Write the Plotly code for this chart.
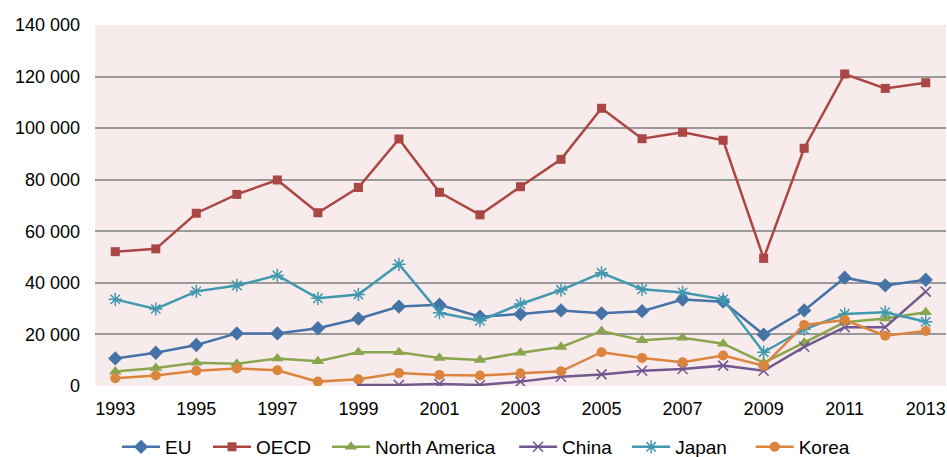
import plotly.graph_objects as go

years = list(range(1993, 2014))

eu = [10.7, 12.9, 15.9, 20.4, 20.4, 22.4, 26.1, 30.8, 31.5, 26.9, 27.9,
      29.3, 28.2, 29.0, 33.5, 32.7, 19.9, 29.3, 42.0, 39.0, 41.2]
oecd = [52.1, 53.2, 67.0, 74.3, 79.9, 67.2, 77.0, 95.8, 75.1, 66.4, 77.3,
        87.9, 107.7, 95.9, 98.4, 95.3, 49.5, 92.2, 121.0, 115.4, 117.6]
north_america = [5.6, 7.0, 9.0, 8.6, 10.7, 9.6, 13.1, 13.1, 10.9, 10.1, 12.9,
                 15.1, 21.3, 17.7, 18.7, 16.4, 9.0, 16.8, 24.7, 26.2, 28.6]
china = [None, None, None, None, None, None, 0.4, 0.4, 0.8, 0.4, 1.7,
         3.6, 4.5, 5.9, 6.6, 7.9, 5.9, 15.2, 22.8, 22.8, 36.6]
japan = [33.6, 29.9, 36.7, 39.0, 42.9, 34.0, 35.5, 47.2, 28.4, 25.3, 31.8,
         37.2, 43.9, 37.5, 36.3, 33.6, 13.1, 22.0, 27.9, 28.6, 24.9]
korea = [3.0, 4.1, 5.9, 6.8, 6.1, 1.7, 2.6, 5.0, 4.3, 4.1, 4.9,
         5.7, 13.1, 10.9, 9.2, 11.8, 7.9, 23.7, 25.6, 19.5, 21.3]

y_ticks = [0, 20000, 40000, 60000, 80000, 100000, 120000, 140000]
y_tick_labels = ["0", "20 000", "40 000", "60 000", "80 000", "100 000", "120 000", "140 000"]
x_ticks = list(range(1993, 2014, 2))


def scale(vals):
    return [None if v is None else v * 1000 for v in vals]


series = [
    ("EU", eu, "#4572A7", "diamond", 11),
    ("OECD", oecd, "#AA4643", "square", 9),
    ("North America", north_america, "#89A54E", "triangle-up", 11),
    ("China", china, "#71588F", "x-thin-open", 10),
    ("Japan", japan, "#4198AF", "asterisk-open", 11),
    ("Korea", korea, "#DB843D", "circle", 10),
]

# legend entry left positions (paper x)
legend_x = [0.0259, 0.1328, 0.2726, 0.4925, 0.6253, 0.7705]

fig = go.Figure()
layout_legends = {}
for i, (name, vals, color, symbol, size) in enumerate(series):
    marker = dict(symbol=symbol, size=size, color=color)
    if symbol.endswith("-open"):
        marker["line"] = dict(color=color, width=1.5)
    lg = "legend" if i == 0 else f"legend{i + 1}"
    fig.add_trace(go.Scatter(
        x=years, y=scale(vals), name=name, mode="lines+markers",
        line=dict(color=color, width=2.5), marker=marker, legend=lg,
    ))
    layout_legends[lg] = dict(
        x=legend_x[i], xanchor="left", xref="paper",
        y=0.022, yanchor="middle", yref="container",
        orientation="h", itemwidth=38, font=dict(size=19),
        bgcolor="rgba(0,0,0,0)", borderwidth=0,
    )

fig.update_layout(
    width=947, height=457,
    margin=dict(l=95, r=1, t=25, b=71),
    paper_bgcolor="white",
    plot_bgcolor="#F8EBEB",
    font=dict(family="Liberation Sans, Arial, sans-serif", size=18, color="#000000"),
    showlegend=True,
    **layout_legends,
)
fig.update_xaxes(
    range=[1992.5, 2013.5], tickmode="array", tickvals=x_ticks,
    ticktext=[str(t) for t in x_ticks], showgrid=False, zeroline=False,
    showline=False, ticks="", ticklabelstandoff=10,
)
fig.update_yaxes(
    range=[0, 140000], tickmode="array", tickvals=y_ticks, ticktext=y_tick_labels,
    showgrid=True, gridcolor="#9A9A9A", gridwidth=1.5, zeroline=False,
    showline=False, ticks="", ticklabelstandoff=14,
)

fig.write_html("out.html")
